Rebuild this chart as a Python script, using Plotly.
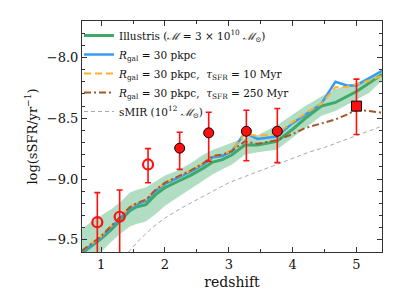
import plotly.graph_objects as go

# ---- data ----
z_grid = [0.7, 0.85, 1.0, 1.15, 1.3, 1.45, 1.55, 1.7, 1.85, 2.0, 2.2, 2.4, 2.6, 2.75,
          2.9, 3.05, 3.25, 3.45, 3.75, 4.0, 4.2, 4.45, 4.67, 4.85, 5.0, 5.2, 5.4]

illustris = [-9.61, -9.55, -9.49, -9.42, -9.34, -9.26, -9.23, -9.21, -9.13, -9.07, -9.02, -8.97,
             -8.91, -8.86, -8.84, -8.80, -8.72, -8.72, -8.69, -8.59, -8.50, -8.40, -8.37, -8.32,
             -8.28, -8.21, -8.14]
illustris_hi = [-9.41, -9.35, -9.30, -9.25, -9.19, -9.11, -9.09, -9.07, -9.02, -8.97, -8.93, -8.87,
                -8.80, -8.76, -8.73, -8.70, -8.66, -8.64, -8.56, -8.47, -8.40, -8.32, -8.26, -8.23,
                -8.21, -8.16, -8.11]
illustris_lo = [-9.80, -9.70, -9.60, -9.52, -9.45, -9.39, -9.37, -9.35, -9.29, -9.22, -9.15, -9.08,
                -9.01, -8.96, -8.92, -8.88, -8.80, -8.78, -8.76, -8.66, -8.58, -8.48, -8.44, -8.39,
                -8.35, -8.29, -8.19]
rgal30 = [-9.60, -9.54, -9.48, -9.40, -9.32, -9.24, -9.21, -9.18, -9.10, -9.04, -8.99, -8.94,
          -8.88, -8.82, -8.81, -8.77, -8.62, -8.67, -8.65, -8.54, -8.47, -8.38, -8.20, -8.23,
          -8.23, -8.17, -8.11]
rgal30_t10 = [-9.59, -9.53, -9.47, -9.39, -9.31, -9.23, -9.20, -9.17, -9.09, -9.03, -8.98, -8.93,
              -8.87, -8.81, -8.80, -8.76, -8.63, -8.645, -8.63, -8.53, -8.46, -8.38, -8.245, -8.24,
              -8.22, -8.19, -8.15]
rgal30_t250 = [-9.59, -9.53, -9.47, -9.39, -9.31, -9.23, -9.20, -9.17, -9.09, -9.03, -8.98, -8.93,
               -8.87, -8.81, -8.80, -8.77, -8.69, -8.71, -8.68, -8.63, -8.58, -8.54, -8.51, -8.47,
               -8.43, -8.44, -8.455]

smir_z = [1.43, 1.6, 1.8, 2.0, 2.25, 2.5, 2.75, 3.0, 3.25, 3.5, 3.75, 4.0, 4.25, 4.5, 4.75, 5.0, 5.2, 5.4]
smir = [-9.60, -9.50, -9.40, -9.32, -9.24, -9.17, -9.10, -9.03, -8.98, -8.93, -8.88, -8.83,
        -8.78, -8.74, -8.69, -8.64, -8.60, -8.565]

open_z = [0.94, 1.29, 1.735]
open_y = [-9.355, -9.31, -8.88]
open_up = [0.243, 0.22, 0.13]
open_dn = [0.40, 0.40, 0.15]

fill_z = [2.23, 2.685, 3.275, 3.76]
fill_y = [-8.746, -8.62, -8.607, -8.607]
fill_up = [0.131, 0.17, 0.173, 0.187]
fill_dn = [0.174, 0.235, 0.243, 0.258]

sq_z = [5.0]
sq_y = [-8.40]
sq_up = [0.222]
sq_dn = [0.234]

x_ticks = [1, 2, 3, 4, 5]
y_ticks = [-9.5, -9.0, -8.5, -8.0]

GREEN = "#3daa6a"
BAND = "rgba(61,170,106,0.40)"
BLUE = "#3a9bf0"
ORANGE = "#fdb12b"
BROWN = "#a4582a"
GREY = "#a9a9a9"
RED = "#ff1010"
SERIF = "DejaVu Serif"

fig = go.Figure()

# shaded band
fig.add_trace(go.Scatter(x=z_grid, y=illustris_hi, mode="lines", line=dict(width=0),
                         showlegend=False, hoverinfo="skip"))
fig.add_trace(go.Scatter(x=z_grid, y=illustris_lo, mode="lines", line=dict(width=0),
                         fill="tonexty", fillcolor=BAND, showlegend=False, hoverinfo="skip"))

fig.add_trace(go.Scatter(x=smir_z, y=smir, mode="lines", line=dict(color=GREY, width=1, dash="4px,3px"),
                         name="sMIR (10<sup>12</sup> <i>ℳ</i><sub>⊙</sub>)", legendrank=5))
fig.add_trace(go.Scatter(x=z_grid, y=illustris, mode="lines", line=dict(color=GREEN, width=3),
                         name="Illustris (<i>ℳ</i> = 3 × 10<sup>10</sup> <i>ℳ</i><sub>⊙</sub>)", legendrank=1))
fig.add_trace(go.Scatter(x=z_grid, y=rgal30, mode="lines", line=dict(color=BLUE, width=2.5),
                         name="<i>R</i><sub>gal</sub> = 30 pkpc", legendrank=2))
fig.add_trace(go.Scatter(x=z_grid, y=rgal30_t10, mode="lines", line=dict(color=ORANGE, width=2, dash="7px,4px"),
                         name="<i>R</i><sub>gal</sub> = 30 pkpc,  <i>τ</i><sub>SFR</sub> = 10 Myr", legendrank=3))
fig.add_trace(go.Scatter(x=z_grid, y=rgal30_t250, mode="lines", line=dict(color=BROWN, width=2, dash="7px,3px,2px,3px"),
                         name="<i>R</i><sub>gal</sub> = 30 pkpc,  <i>τ</i><sub>SFR</sub> = 250 Myr", legendrank=4))

err_style = dict(type="data", symmetric=False, color=RED, thickness=1.6, width=3)

fig.add_trace(go.Scatter(x=open_z, y=open_y, mode="markers", showlegend=False,
                         marker=dict(symbol="circle-open", size=10, color=RED, line=dict(width=2.2, color=RED)),
                         error_y=dict(array=open_up, arrayminus=open_dn, **err_style)))
fig.add_trace(go.Scatter(x=fill_z, y=fill_y, mode="markers", showlegend=False,
                         marker=dict(symbol="circle", size=10, color=RED, line=dict(width=1, color="black")),
                         error_y=dict(array=fill_up, arrayminus=fill_dn, **err_style)))
fig.add_trace(go.Scatter(x=sq_z, y=sq_y, mode="markers", showlegend=False,
                         marker=dict(symbol="square", size=10, color=RED, line=dict(width=1, color="black")),
                         error_y=dict(array=sq_up, arrayminus=sq_dn, **err_style)))

axis_common = dict(showgrid=False, zeroline=False, showline=True, linecolor="#333333", linewidth=1,
                   mirror="allticks", ticks="inside", ticklen=5, tickcolor="#333333",
                   tickfont=dict(family=SERIF, size=13, color="#111111"))

# the page places the figure 8px from the window corner; margins compensate
fig.update_layout(
    width=411, height=308,
    margin=dict(l=74, r=37, t=13, b=64),
    paper_bgcolor="white", plot_bgcolor="white",
    font=dict(family=SERIF, size=13, color="#111111"),
    xaxis=dict(range=[0.7, 5.4], tickvals=x_ticks,
               minor=dict(dtick=0.5, ticks="inside", ticklen=3, tickcolor="#333333"),
               title=dict(text="redshift", font=dict(family=SERIF, size=14), standoff=6), **axis_common),
    yaxis=dict(range=[-9.6, -7.7], tickvals=y_ticks, tickformat=".1f",
               minor=dict(dtick=0.1, ticks="inside", ticklen=3, tickcolor="#333333"),
               title=dict(text="log(sSFR/yr<sup>−1</sup>)", font=dict(family=SERIF, size=13), standoff=6),
               **axis_common),
    legend=dict(x=-0.01, y=1.0, xanchor="left", yanchor="top", bgcolor="rgba(0,0,0,0)",
                font=dict(family=SERIF, size=10.5, color="#111111"), traceorder="normal",
                tracegroupgap=0, itemwidth=30),
    showlegend=True,
)

fig.write_html("out.html")
